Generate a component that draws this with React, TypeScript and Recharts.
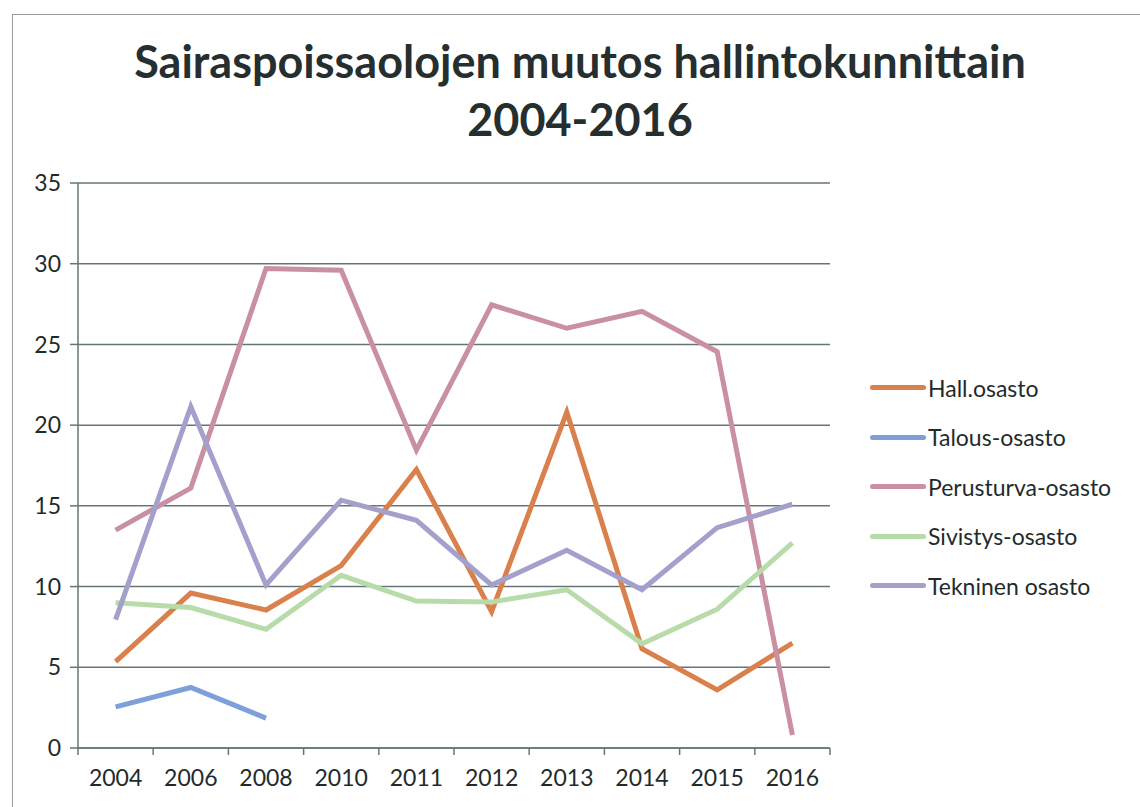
import { LineChart, Line, XAxis, YAxis, CartesianGrid } from 'recharts'

const years = ['2004', '2006', '2008', '2010', '2011', '2012', '2013', '2014', '2015', '2016']
const hall = [5.35, 9.6, 8.55, 11.3, 17.25, 8.45, 20.8, 6.15, 3.6, 6.5]
const talous = [2.55, 3.75, 1.85, null, null, null, null, null, null, null]
const perusturva = [13.5, 16.1, 29.7, 29.6, 18.45, 27.45, 26.0, 27.05, 24.55, 0.8]
const sivistys = [9.0, 8.7, 7.35, 10.7, 9.1, 9.05, 9.8, 6.45, 8.6, 12.7]
const tekninen = [7.95, 21.15, 10.1, 15.35, 14.1, 10.1, 12.25, 9.8, 13.65, 15.1]
const yTicks = [0, 5, 10, 15, 20, 25, 30, 35]

const series = [
    { key: 'hall', name: 'Hall.osasto', color: '#d9804c', values: hall },
    { key: 'talous', name: 'Talous-osasto', color: '#7f9fd8', values: talous },
    { key: 'perusturva', name: 'Perusturva-osasto', color: '#c98fa3', values: perusturva },
    { key: 'sivistys', name: 'Sivistys-osasto', color: '#b7dcaa', values: sivistys },
    { key: 'tekninen', name: 'Tekninen osasto', color: '#a3a0cc', values: tekninen },
]

const data = years.map((year, i) => {
    const row: Record<string, string | number | null> = { year }
    series.forEach(s => {
        row[s.key] = s.values[i]
    })
    return row
})

const FONT = 'Lato, "Open Sans", sans-serif'
const TEXT = '#1f2b2b'
const GRID = '#667676'

const PLOT_LEFT = 78
const PLOT_RIGHT = 830
const HALF_BAND = (PLOT_RIGHT - PLOT_LEFT) / years.length / 2

const XTick = (props: any) => {
    const { x, y, payload, index } = props
    const last = index === years.length - 1
    return (
        <g>
            <line x1={x - HALF_BAND} x2={x - HALF_BAND} y1={y - 8} y2={y - 1} stroke={GRID} strokeWidth={1.5} />
            {last && <line x1={x + HALF_BAND} x2={x + HALF_BAND} y1={y - 8} y2={y - 1} stroke={GRID} strokeWidth={1.5} />}
            <text x={x} y={y + 30} textAnchor="middle" fontSize={23} fontFamily={FONT} fill={TEXT}>
                {payload.value}
            </text>
        </g>
    )
}

export default function App() {
    return (
        <div style={{ position: 'absolute', left: 0, top: 0, width: 1140, height: 807, background: '#fff', overflow: 'hidden' }}>
            <div style={{ position: 'absolute', left: 12, top: 14, width: 1200, height: 900, border: '1.5px solid #9a9a9a' }} />
            <div
                style={{
                    position: 'absolute',
                    left: 0,
                    top: 32,
                    width: 1160,
                    textAlign: 'center',
                    fontFamily: FONT,
                    fontWeight: 700,
                    fontSize: 45,
                    lineHeight: '58px',
                    color: '#262f2f',
                }}
            >
                Sairaspoissaolojen muutos hallintokunnittain
                <br />
                2004-2016
            </div>
            <div style={{ position: 'absolute', left: 0, top: 0 }}>
                <LineChart width={1140} height={807} data={data} margin={{ top: 183, right: 310, bottom: 19, left: 0 }}>
                    <CartesianGrid vertical={false} stroke={GRID} strokeWidth={1.5} />
                    <XAxis
                        dataKey="year"
                        padding={{ left: HALF_BAND, right: HALF_BAND }}
                        stroke={GRID}
                        strokeWidth={1.5}
                        tickLine={false}
                        tick={<XTick />}
                        height={40}
                        interval={0}
                    />
                    <YAxis
                        domain={[0, 35]}
                        ticks={yTicks}
                        width={78}
                        stroke={GRID}
                        strokeWidth={1.5}
                        tickSize={8}
                        tickMargin={9}
                        tick={{ fontSize: 23, fontFamily: FONT, fill: TEXT }}
                        interval={0}
                    />
                    {series.map(s => (
                        <Line
                            key={s.key}
                            type="linear"
                            dataKey={s.key}
                            name={s.name}
                            stroke={s.color}
                            strokeWidth={5}
                            dot={false}
                            activeDot={false}
                            connectNulls={false}
                            isAnimationActive={false}
                        />
                    ))}
                </LineChart>
            </div>
            <div style={{ position: 'absolute', left: 870, top: 363, fontFamily: FONT, fontSize: 23, color: TEXT }}>
                {series.map(s => (
                    <div key={s.key} style={{ display: 'flex', alignItems: 'center', height: 49.5 }}>
                        <span style={{ display: 'inline-block', width: 56, height: 5, borderRadius: 3, background: s.color, marginRight: 2 }} />
                        <span>{s.name}</span>
                    </div>
                ))}
            </div>
        </div>
    )
}
